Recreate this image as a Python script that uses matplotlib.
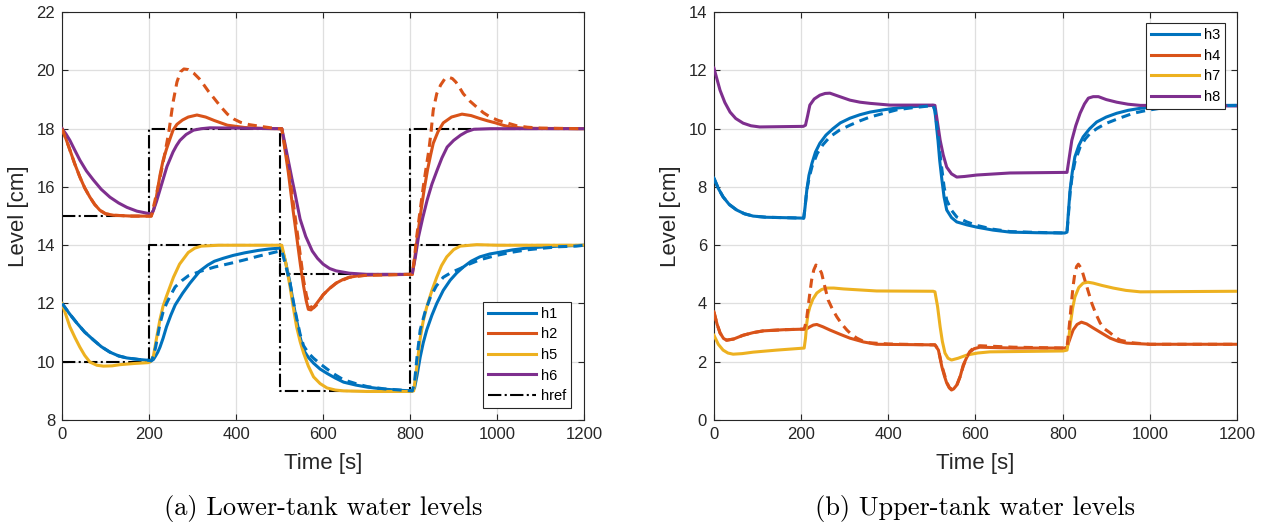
import matplotlib
matplotlib.use("Agg")
import matplotlib.pyplot as plt

# ---------------- data: left panel (lower tanks) ----------------
t_ref = [0, 200, 200, 500, 500, 800, 800, 1200]
href_low = [10, 10, 14, 14, 9, 9, 14, 14]
href_up = [15, 15, 18, 18, 13, 13, 18, 18]

t_h1 = [0, 17, 34, 52, 72, 90, 110, 130, 149, 175, 198,
        205, 210, 215, 220, 225, 232, 240, 250, 260, 277, 294, 317, 335, 350, 370, 393, 420, 450, 475, 500,
        505, 514, 524, 531, 539, 547, 555, 566, 578, 593, 609, 628, 647, 675, 701, 740, 777, 805,
        810, 816, 823, 830, 838, 850, 861, 876, 892, 907, 922, 940, 960, 983, 1006, 1035, 1067, 1105, 1144, 1200]
h1 = [12, 11.65, 11.33, 11.02, 10.75, 10.52, 10.33, 10.2, 10.13, 10.08, 10.05,
      10.03, 10.08, 10.2, 10.33, 10.5, 10.8, 11.2, 11.6, 11.95, 12.35, 12.7, 13.12, 13.32, 13.45, 13.55, 13.65, 13.74, 13.82, 13.87, 13.9,
      13.9, 13.4, 12.7, 12.05, 11.43, 10.85, 10.4, 10.15, 9.95, 9.75, 9.6, 9.44, 9.3, 9.2, 9.13, 9.06, 9.02, 9.0,
      9.1, 9.55, 10.16, 10.65, 11.09, 11.6, 12.0, 12.45, 12.8, 13.05, 13.25, 13.45, 13.6, 13.7, 13.76, 13.84, 13.9, 13.94, 13.97, 14.0]

t_h1d = [0, 17, 34, 52, 72, 90, 110, 130, 149, 175, 198,
         205, 210, 215, 220, 225, 232, 240, 250, 260, 275, 290, 317, 350, 393, 420, 450, 475, 500,
         505, 514, 524, 531, 539, 547, 555, 566, 578, 593, 609, 628, 647, 675, 701, 740, 777, 805,
         810, 816, 823, 834, 846, 860, 876, 895, 915, 937, 960, 995, 1030, 1067, 1106, 1144, 1182, 1200]
h1d = [12, 11.65, 11.33, 11.02, 10.75, 10.52, 10.33, 10.2, 10.13, 10.08, 10.05,
       10.03, 10.2, 10.5, 10.9, 11.3, 11.7, 12.0, 12.3, 12.57, 12.78, 12.95, 13.1, 13.25, 13.4, 13.5, 13.62, 13.71, 13.8,
       13.8, 13.3, 12.7, 12.1, 11.5, 10.95, 10.55, 10.3, 10.12, 9.93, 9.75, 9.55, 9.38, 9.25, 9.15, 9.07, 9.03, 9.0,
       9.3, 10.2, 11.09, 11.7, 12.2, 12.6, 12.9, 13.07, 13.2, 13.36, 13.5, 13.64, 13.75, 13.84, 13.9, 13.95, 13.97, 14.0]

t_h5 = [0, 9, 18, 30, 41, 52, 64, 80, 95, 115, 133, 165, 198,
        203, 210, 217, 225, 232, 240, 256, 270, 290, 305, 320, 360, 500,
        505, 514, 524, 531, 539, 547, 555, 566, 578, 593, 609, 628, 647, 700, 800,
        808, 815, 823, 830, 838, 850, 861, 872, 884, 900, 915, 953, 1000, 1200]
h5 = [12, 11.6, 11.2, 10.82, 10.5, 10.22, 9.99, 9.88, 9.85, 9.86, 9.9, 9.94, 9.97,
      10.0, 10.2, 10.8, 11.45, 11.9, 12.25, 12.9, 13.35, 13.75, 13.9, 13.97, 14.0, 14.0,
      14.0, 13.4, 12.57, 11.9, 11.2, 10.7, 10.3, 9.85, 9.48, 9.25, 9.1, 9.03, 9.0, 8.98, 8.98,
      9.0, 9.8, 10.8, 11.4, 11.88, 12.45, 12.9, 13.3, 13.6, 13.85, 13.97, 14.02, 14.0, 14.0]

t_h2 = [0, 9, 18, 29, 41, 52, 64, 75, 87, 100, 118, 160,
        205, 210, 215, 220, 225, 232, 240, 248, 255, 264, 277, 290, 310, 330, 350, 380, 420, 460, 500,
        505, 512, 520, 530, 540, 548, 555, 561, 566, 572, 580, 590, 600, 615, 630, 645, 660, 680, 700, 800,
        805, 810, 815, 825, 832, 840, 847, 853, 864, 876, 895, 919, 940, 960, 978, 996, 1013, 1030, 1060, 1100, 1200]
h2 = [18, 17.65, 17.27, 16.8, 16.34, 15.97, 15.65, 15.4, 15.2, 15.08, 15.03, 15.0,
      15.0, 15.2, 15.5, 15.95, 16.4, 16.9, 17.3, 17.65, 17.95, 18.15, 18.3, 18.4, 18.47, 18.4, 18.28, 18.12, 18.04, 18.01, 18.0,
      18.0, 17.3, 16.5, 15.3, 14.2, 13.3, 12.6, 12.1, 11.8, 11.78, 11.9, 12.1, 12.3, 12.52, 12.7, 12.82, 12.9, 12.95, 12.97, 13.0,
      13.0, 13.5, 14.1, 15.2, 15.9, 16.6, 17.1, 17.5, 17.9, 18.2, 18.4, 18.5, 18.45, 18.35, 18.27, 18.2, 18.12, 18.06, 18.02, 18.01, 18.0]

t_h2d = [0, 9, 18, 29, 41, 52, 64, 75, 87, 100, 118, 160,
         205, 213, 222, 233, 245, 255, 264, 272, 280, 290, 303, 315, 326, 337, 349, 365, 380, 395, 410, 430, 456, 480, 500,
         505, 512, 520, 530, 540, 548, 555, 562, 570, 578, 585, 600, 615, 630, 660, 700, 800,
         805, 810, 815, 822, 830, 837, 843, 848, 853, 861, 870, 879, 888, 897, 905, 913, 922, 937, 953, 968, 984,
         1003, 1022, 1045, 1070, 1100, 1200]
h2d = [18, 17.65, 17.27, 16.8, 16.34, 15.97, 15.65, 15.4, 15.2, 15.08, 15.03, 15.0,
       15.0, 15.5, 16.1, 16.9, 17.85, 18.9, 19.6, 19.95, 20.05, 20.03, 19.9, 19.72, 19.5, 19.27, 19.05, 18.75, 18.5, 18.33, 18.22, 18.14, 18.08, 18.03, 18.0,
       18.0, 17.4, 16.7, 15.6, 14.5, 13.6, 12.8, 12.25, 11.9, 11.85, 11.95, 12.3, 12.52, 12.7, 12.9, 12.97, 13.0,
       13.0, 13.6, 14.3, 15.1, 16.0, 16.7, 17.27, 17.9, 18.64, 19.2, 19.5, 19.7, 19.77, 19.72, 19.6, 19.42, 19.2, 18.95, 18.74, 18.55, 18.4,
       18.28, 18.2, 18.1, 18.05, 18.02, 18.0]

t_h6 = [0, 9, 18, 29, 41, 56, 72, 90, 110, 130, 149, 172, 195,
        205, 210, 217, 225, 233, 241, 255, 263, 271, 285, 302, 320, 340, 400, 500,
        505, 512, 520, 528, 535, 547, 560, 575, 587, 600, 615, 630, 660, 700, 800,
        805, 812, 819, 829, 839, 850, 862, 873, 885, 900, 916, 930, 946, 984, 1200]
h6 = [18, 17.82, 17.6, 17.27, 16.92, 16.55, 16.24, 15.92, 15.65, 15.45, 15.3, 15.17, 15.1,
      15.08, 15.2, 15.5, 15.9, 16.3, 16.7, 17.2, 17.42, 17.6, 17.8, 17.95, 18.0, 18.03, 18.02, 18.0,
      18.0, 17.5, 16.9, 16.3, 15.8, 14.9, 14.3, 13.8, 13.55, 13.35, 13.2, 13.12, 13.04, 13.0, 13.0,
      13.05, 13.6, 14.28, 14.95, 15.55, 16.1, 16.58, 17.0, 17.37, 17.6, 17.78, 17.9, 17.98, 18.0, 18.0]

# ---------------- data: right panel (upper tanks) ----------------
t_h3 = [0, 10, 21, 35, 52, 70, 90, 120, 150, 206,
        209, 213, 218, 225, 233, 243, 257, 273, 290, 312, 335, 358, 390, 420, 460, 503,
        507, 514, 518, 523, 528, 534, 545, 557, 580, 603, 640, 679, 740, 805,
        810, 813, 817, 822, 828, 837, 847, 862, 878, 900, 924, 950, 978, 1039, 1100, 1200]
h3 = [8.3, 7.95, 7.66, 7.4, 7.21, 7.08, 7.0, 6.96, 6.95, 6.93,
      7.3, 7.89, 8.4, 8.82, 9.2, 9.5, 9.78, 10.0, 10.2, 10.36, 10.48, 10.57, 10.65, 10.71, 10.76, 10.8,
      10.6, 9.6, 8.9, 8.24, 7.65, 7.21, 6.95, 6.8, 6.7, 6.62, 6.52, 6.45, 6.43, 6.42,
      6.45, 7.1, 7.89, 8.5, 9.03, 9.42, 9.72, 10.0, 10.23, 10.4, 10.53, 10.63, 10.7, 10.78, 10.8, 10.8]

t_h3d = [0, 10, 21, 35, 52, 70, 90, 120, 150, 206,
         209, 213, 219, 225, 237, 250, 266, 288, 312, 335, 358, 390, 420, 450, 481, 503,
         507, 514, 518, 523, 528, 534, 545, 557, 580, 603, 640, 679, 740, 805,
         810, 813, 817, 822, 828, 840, 852, 863, 880, 901, 930, 962, 990, 1023, 1060, 1100, 1200]
h3d = [8.3, 7.95, 7.66, 7.4, 7.21, 7.08, 7.0, 6.96, 6.95, 6.93,
       7.3, 7.89, 8.35, 8.7, 9.15, 9.45, 9.72, 9.95, 10.12, 10.27, 10.4, 10.53, 10.65, 10.71, 10.76, 10.8,
       10.65, 9.8, 9.2, 8.6, 8.0, 7.55, 7.2, 6.97, 6.8, 6.68, 6.55, 6.47, 6.44, 6.42,
       6.45, 7.0, 7.8, 8.4, 8.85, 9.37, 9.65, 9.84, 10.02, 10.19, 10.36, 10.53, 10.62, 10.7, 10.75, 10.77, 10.8]

t_h8 = [0, 7, 14, 25, 37, 50, 67, 85, 105, 205,
        210, 215, 220, 230, 243, 255, 266, 285, 312, 335, 358, 404, 503,
        507, 512, 519, 526, 534, 545, 557, 575, 603, 679, 805,
        810, 815, 821, 830, 840, 850, 859, 870, 882, 900, 924, 950, 978, 1200]
h8 = [12.08, 11.7, 11.32, 10.9, 10.57, 10.35, 10.19, 10.1, 10.06, 10.08,
      10.12, 10.45, 10.81, 11.02, 11.15, 11.21, 11.22, 11.12, 10.98, 10.91, 10.87, 10.81, 10.81,
      10.8, 10.3, 9.6, 9.1, 8.68, 8.45, 8.34, 8.36, 8.41, 8.48, 8.5,
      8.5, 9.0, 9.6, 10.1, 10.53, 10.85, 11.05, 11.1, 11.1, 11.0, 10.91, 10.84, 10.8, 10.78]

t_h4 = [0, 7, 14, 22, 29, 45, 67, 90, 113, 160, 207,
        214, 220, 228, 236, 250, 266, 290, 312, 343, 373, 503,
        507, 515, 523, 529, 534, 540, 545, 550, 557, 565, 572, 580, 587, 597, 610, 687, 805,
        810, 817, 824, 833, 843, 855, 870, 890, 909, 928, 947, 1001, 1200]
h4 = [3.71, 3.3, 2.99, 2.8, 2.74, 2.78, 2.91, 3.0, 3.06, 3.1, 3.12,
      3.14, 3.2, 3.26, 3.28, 3.2, 3.09, 2.94, 2.81, 2.68, 2.6, 2.58,
      2.58, 2.4, 1.82, 1.5, 1.27, 1.1, 1.03, 1.07, 1.2, 1.5, 1.89, 2.15, 2.33, 2.45, 2.5, 2.47, 2.47,
      2.5, 2.8, 3.09, 3.28, 3.36, 3.3, 3.16, 2.98, 2.81, 2.7, 2.64, 2.6, 2.6]

t_h4d = [0, 7, 14, 22, 29, 45, 67, 90, 113, 160, 207,
         212, 216, 220, 224, 229, 234, 240, 247, 254, 262, 272, 282, 293, 305, 316, 328, 343, 358, 400, 503,
         507, 515, 523, 529, 534, 540, 545, 550, 557, 565, 572, 580, 587, 597, 610, 687, 805,
         810, 815, 820, 824, 828, 832, 836, 843, 851, 859, 867, 876, 886, 897, 909, 920, 932, 960, 1000, 1200]
h4d = [3.71, 3.3, 2.99, 2.8, 2.74, 2.78, 2.91, 3.0, 3.06, 3.1, 3.12,
       3.4, 3.88, 4.35, 4.8, 5.15, 5.32, 5.25, 5.04, 4.6, 4.12, 3.8, 3.54, 3.3, 3.09, 2.93, 2.81, 2.7, 2.65, 2.61, 2.58,
       2.58, 2.42, 1.85, 1.55, 1.3, 1.12, 1.05, 1.08, 1.18, 1.5, 1.85, 2.15, 2.35, 2.5, 2.55, 2.5, 2.47,
       2.5, 3.2, 4.0, 4.6, 5.04, 5.27, 5.35, 5.2, 4.8, 4.4, 4.0, 3.65, 3.33, 3.12, 2.99, 2.85, 2.74, 2.65, 2.6, 2.6]

t_h7 = [0, 10, 21, 32, 44, 65, 90, 144, 207,
        210, 213, 216, 220, 227, 236, 247, 259, 275, 297, 373, 503,
        507, 513, 519, 524, 530, 537, 545, 560, 580, 605, 633, 801,
        810, 814, 818, 823, 828, 837, 847, 858, 870, 890, 916, 945, 978, 1200]
h7 = [2.91, 2.6, 2.4, 2.3, 2.26, 2.28, 2.33, 2.4, 2.47,
      2.8, 3.33, 3.65, 3.88, 4.15, 4.36, 4.48, 4.53, 4.53, 4.5, 4.43, 4.42,
      4.4, 3.9, 3.19, 2.7, 2.3, 2.12, 2.06, 2.12, 2.23, 2.3, 2.34, 2.37,
      2.4, 2.8, 3.33, 3.85, 4.22, 4.55, 4.7, 4.73, 4.7, 4.62, 4.53, 4.45, 4.4, 4.42]

xticks = [0, 200, 400, 600, 800, 1000, 1200]
yticks_left = [8, 10, 12, 14, 16, 18, 20, 22]
yticks_right = [0, 2, 4, 6, 8, 10, 12, 14]

# ---------------- style ----------------
C_BLUE = "#0072BD"
C_ORANGE = "#D95319"
C_YELLOW = "#EDB120"
C_PURPLE = "#7E2F8E"
LW = 2.2
DASH = (0, (3, 2))

plt.rcParams["font.family"] = ["Liberation Sans", "DejaVu Sans"]

fig = plt.figure(figsize=(12.69, 5.29), dpi=100)
axL = fig.add_axes([0.0489, 0.206, 0.4115, 0.771])
axR = fig.add_axes([0.5626, 0.206, 0.4122, 0.771])


def style(ax, yticks):
    ax.set_xlim(0, 1200)
    ax.set_ylim(yticks[0], yticks[-1])
    ax.set_xticks(xticks)
    ax.set_yticks(yticks)
    ax.grid(True, color="#DFDFDF", linewidth=0.9)
    ax.set_axisbelow(True)
    ax.tick_params(direction="in", top=True, right=True, length=4, width=0.8,
                   labelsize=12, colors="#262626", pad=5)
    for s in ax.spines.values():
        s.set_color("#262626")
        s.set_linewidth(0.8)
    ax.set_xlabel("Time [s]", fontsize=16, color="#262626", labelpad=8)
    ax.set_ylabel("Level [cm]", fontsize=16, color="#262626", labelpad=5)


legend_kw = dict(fontsize=10.5, handlelength=3.3, handletextpad=0.3, borderpad=0.35,
                 labelspacing=0.45, borderaxespad=0.0, fancybox=False, framealpha=1,
                 edgecolor="#262626")

# left panel
l1, = axL.plot(t_h1, h1, color=C_BLUE, lw=LW, zorder=3)
l2, = axL.plot(t_h2, h2, color=C_ORANGE, lw=LW, zorder=3)
l5, = axL.plot(t_h5, h5, color=C_YELLOW, lw=LW, zorder=3)
l6, = axL.plot(t_h6, h6, color=C_PURPLE, lw=LW, zorder=3)
axL.plot(t_h1d, h1d, color=C_BLUE, lw=LW, ls=DASH, zorder=4)
axL.plot(t_h2d, h2d, color=C_ORANGE, lw=LW, ls=DASH, zorder=4)
lr, = axL.plot(t_ref, href_low, color="black", lw=1.5, ls="-.", zorder=2)
axL.plot(t_ref, href_up, color="black", lw=1.5, ls="-.", zorder=2)
style(axL, yticks_left)
legL = axL.legend([l1, l2, l5, l6, lr], ["h1", "h2", "h5", "h6", "href"],
                  loc="lower right", bbox_to_anchor=(0.975, 0.029), **legend_kw)
legL.get_frame().set_linewidth(0.8)

# right panel
r3, = axR.plot(t_h3, h3, color=C_BLUE, lw=LW, zorder=3)
r4, = axR.plot(t_h4, h4, color=C_ORANGE, lw=LW, zorder=3)
r7, = axR.plot(t_h7, h7, color=C_YELLOW, lw=LW, zorder=3)
r8, = axR.plot(t_h8, h8, color=C_PURPLE, lw=LW, zorder=3)
axR.plot(t_h3d, h3d, color=C_BLUE, lw=LW, ls=DASH, zorder=4)
axR.plot(t_h4d, h4d, color=C_ORANGE, lw=LW, ls=DASH, zorder=4)
style(axR, yticks_right)
legR = axR.legend([r3, r4, r7, r8], ["h3", "h4", "h7", "h8"],
                  loc="upper right", bbox_to_anchor=(0.977, 0.973), **legend_kw)
legR.get_frame().set_linewidth(0.8)

# captions
fig.text(0.2545, 0.038, "(a) Lower-tank water levels", ha="center", va="center",
         fontsize=19, family=["cmr10", "DejaVu Serif"])
fig.text(0.7687, 0.038, "(b) Upper-tank water levels", ha="center", va="center",
         fontsize=19, family=["cmr10", "DejaVu Serif"])

fig.savefig("out.png", dpi=100)
